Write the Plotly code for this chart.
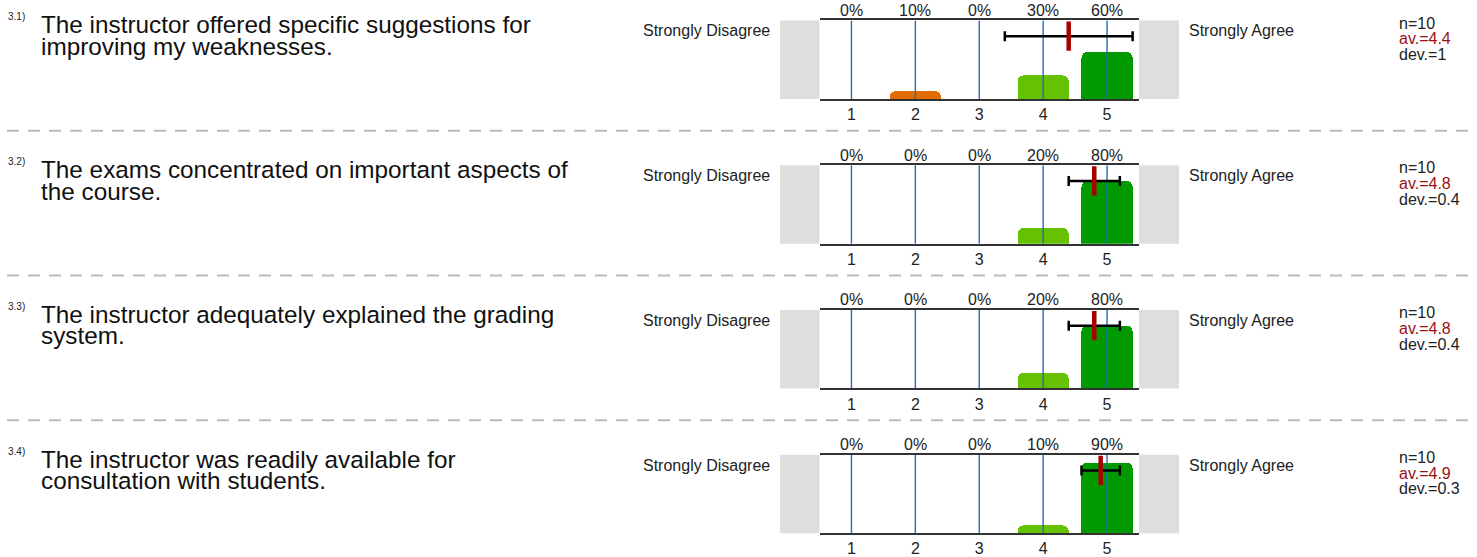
import plotly.graph_objects as go

# ---------------- data ----------------
question_ids = ["3.1)", "3.2)", "3.3)", "3.4)"]
question_lines = [
    ["The instructor offered specific suggestions for", "improving my weaknesses."],
    ["The exams concentrated on important aspects of", "the course."],
    ["The instructor adequately explained the grading", "system."],
    ["The instructor was readily available for", "consultation with students."],
]
scale_points = [1, 2, 3, 4, 5]
scale_labels = ["1", "2", "3", "4", "5"]
pct_q1 = [0, 10, 0, 30, 60]
pct_q2 = [0, 0, 0, 20, 80]
pct_q3 = [0, 0, 0, 20, 80]
pct_q4 = [0, 0, 0, 10, 90]
percentages = [pct_q1, pct_q2, pct_q3, pct_q4]
n_values = [10, 10, 10, 10]
averages = [4.4, 4.8, 4.8, 4.9]
deviations = [1, 0.4, 0.4, 0.3]
left_pole = "Strongly Disagree"
right_pole = "Strongly Agree"

# ---------------- style ----------------
W, H = 1477, 557
FONT = "Liberation Sans, Arial, sans-serif"
bar_colors = ["#cc1f00", "#e36c00", "#f2c200", "#66c200", "#009a00"]
ROW_TOP0 = 20.7
ROW_STEP = 146.6
ROW_H = 79.5
PLOT_L, PLOT_R = 819.5, 1139.0
ERR_Y = 80  # vertical position of mean/deviation marker in % units


def fx(px):
    return px / W


def fy(px):
    return 1 - px / H


fig = go.Figure()
annotations = []
shapes = []

for r in range(4):
    top = ROW_TOP0 + r * ROW_STEP
    bot = top + ROW_H
    xa = "x" if r == 0 else f"x{r+1}"
    ya = "y" if r == 0 else f"y{r+1}"
    xkey = "xaxis" if r == 0 else f"xaxis{r+1}"
    ykey = "yaxis" if r == 0 else f"yaxis{r+1}"

    vals = percentages[r]
    fig.add_trace(go.Bar(
        x=scale_points, y=vals, width=0.8,
        marker=dict(color=bar_colors, cornerradius=6, line=dict(width=0)),
        xaxis=xa, yaxis=ya, hoverinfo="skip", showlegend=False,
    ))
    # blue category lines over bars
    lx, ly = [], []
    for p in scale_points:
        lx += [p, p, None]
        ly += [0, 100, None]
    fig.add_trace(go.Scatter(
        x=lx, y=ly, mode="lines", line=dict(color="#1f6cc0", width=1.4),
        xaxis=xa, yaxis=ya, hoverinfo="skip", showlegend=False,
    ))
    # deviation bar
    fig.add_trace(go.Scatter(
        x=[averages[r]], y=[ERR_Y], mode="markers",
        marker=dict(size=1, color="black", opacity=0),
        error_x=dict(type="data", array=[deviations[r]], symmetric=True,
                     color="black", thickness=2.5, width=5),
        xaxis=xa, yaxis=ya, hoverinfo="skip", showlegend=False,
    ))
    # mean marker
    fig.add_trace(go.Scatter(
        x=[averages[r]], y=[ERR_Y], mode="markers",
        marker=dict(symbol="line-ns", size=21,
                    line=dict(width=4.5, color="#a80000")),
        xaxis=xa, yaxis=ya, hoverinfo="skip", showlegend=False,
    ))

    fig.layout[xkey] = dict(
        domain=[fx(PLOT_L), fx(PLOT_R)], range=[0.5, 5.5], anchor=ya,
        tickmode="array", tickvals=scale_points, ticktext=scale_labels,
        showgrid=False, zeroline=False, showline=True, mirror=True,
        linecolor="#333333", linewidth=2, ticks="",
        tickfont=dict(family=FONT, size=16, color="#222"), fixedrange=True,
    )
    fig.layout[ykey] = dict(
        domain=[fy(bot), fy(top)], range=[0, 100], anchor=xa,
        visible=False, fixedrange=True,
    )

    # percentage labels above
    for p, v in zip(scale_points, vals):
        annotations.append(dict(
            x=p, y=1, xref=xa, yref=f"{ya} domain", yanchor="bottom",
            yshift=-0.5, text=f"{v}%", showarrow=False,
            font=dict(family=FONT, size=16, color="#222"),
        ))

    # grey pole boxes
    for x0, x1 in [(780, PLOT_L), (PLOT_R, 1179)]:
        shapes.append(dict(type="rect", xref="paper", yref="paper",
                           x0=fx(x0), x1=fx(x1), y0=fy(bot), y1=fy(top),
                           fillcolor="#dedede", line=dict(width=0), layer="below"))

    # pole labels
    annotations.append(dict(x=fx(772), y=fy(top + 10.5), xref="paper", yref="paper",
                            xanchor="right", yanchor="middle", text=left_pole,
                            showarrow=False, font=dict(family=FONT, size=16, color="#222")))
    annotations.append(dict(x=fx(1187), y=fy(top + 10.5), xref="paper", yref="paper",
                            xanchor="left", yanchor="middle", text=right_pole,
                            showarrow=False, font=dict(family=FONT, size=16, color="#222")))

    # stats
    stats = [(f"n={n_values[r]}", "#222", 2.8),
             (f"av.={averages[r]:g}", "#9b1010", 18.6),
             (f"dev.={deviations[r]:g}", "#222", 34.5)]
    for txt, col, off in stats:
        annotations.append(dict(x=fx(1397), y=fy(top + off), xref="paper", yref="paper",
                                xanchor="left", yanchor="middle", text=txt,
                                showarrow=False, font=dict(family=FONT, size=16, color=col)))

    # question id and text
    annotations.append(dict(x=fx(6), y=fy(top - 3.5), xref="paper", yref="paper",
                            xanchor="left", yanchor="middle", text=question_ids[r],
                            showarrow=False, font=dict(family=FONT, size=10, color="#222")))
    for i, line in enumerate(question_lines[r]):
        annotations.append(dict(x=fx(39), y=fy(top + 4.5 + i * 21.8), xref="paper", yref="paper",
                                xanchor="left", yanchor="middle", text=line,
                                showarrow=False, font=dict(family=FONT, size=24.3, color="#111")))

    # dashed separator
    if r > 0:
        shapes.append(dict(type="line", xref="paper", yref="paper",
                           x0=fx(7), x1=fx(1472), y0=fy(top - 35), y1=fy(top - 35),
                           line=dict(color="#bbbbbb", width=2, dash="12px,9px")))

fig.update_layout(
    width=W, height=H, margin=dict(l=0, r=0, t=0, b=0),
    paper_bgcolor="white", plot_bgcolor="white",
    annotations=annotations, shapes=shapes, bargap=0,
    showlegend=False, font=dict(family=FONT),
)

fig.write_html(
    "out.html",
    config={"displayModeBar": False, "staticPlot": True},
    post_script="document.body.style.margin='0px';document.body.style.overflow='hidden';",
)
